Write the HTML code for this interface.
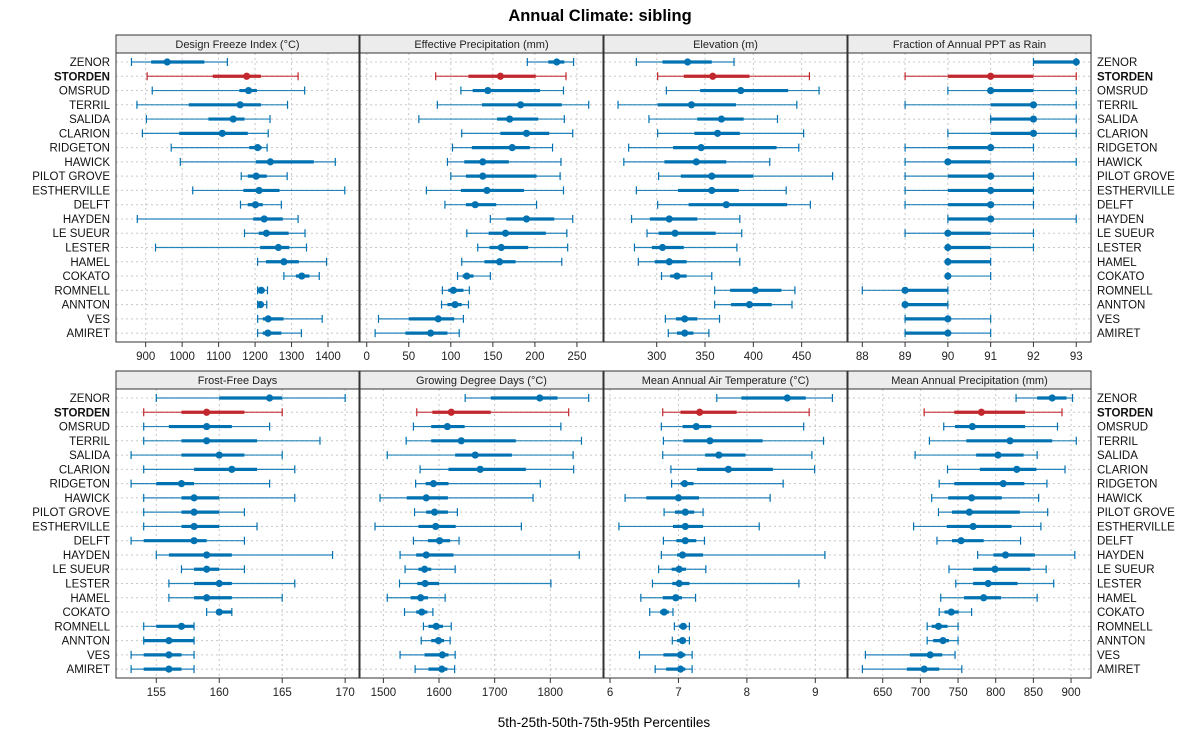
<!DOCTYPE html>
<html><head><meta charset="utf-8"><style>
body{margin:0;background:#fff;font-family:"Liberation Sans",sans-serif;}
svg text{font-family:"Liberation Sans",sans-serif;}
</style></head><body>
<svg id="chart" width="1200" height="750" xmlns="http://www.w3.org/2000/svg">
<text x="600" y="21" text-anchor="middle" font-size="16.5" font-weight="bold">Annual Climate: sibling</text>
<text x="604" y="727" text-anchor="middle" font-size="13.5">5th-25th-50th-75th-95th Percentiles</text>
<g id="g"></g>
</svg>
<script>
const sites = ["ZENOR","STORDEN","OMSRUD","TERRIL","SALIDA","CLARION","RIDGETON","HAWICK","PILOT GROVE","ESTHERVILLE","DELFT","HAYDEN","LE SUEUR","LESTER","HAMEL","COKATO","ROMNELL","ANNTON","VES","AMIRET"];
const panelTitles = ["Design Freeze Index (°C)","Effective Precipitation (mm)","Elevation (m)","Fraction of Annual PPT as Rain","Frost-Free Days","Growing Degree Days (°C)","Mean Annual Air Temperature (°C)","Mean Annual Precipitation (mm)"];
const ticks0 = [900,1000,1100,1200,1300,1400];
const ticks1 = [0,50,100,150,200,250];
const ticks2 = [300,350,400,450];
const ticks3 = [88,89,90,91,92,93];
const ticks4 = [155,160,165,170];
const ticks5 = [1500,1600,1700,1800];
const ticks6 = [6,7,8,9];
const ticks7 = [650,700,750,800,850,900];
const freezeIndex = [[861,915,959,1061,1124],[904,1084,1177,1216,1318],[918,1157,1182,1205,1336],[876,1018,1159,1216,1289],[902,1072,1140,1171,1241],[891,992,1110,1180,1236],[970,1184,1207,1218,1233],[995,1202,1242,1361,1420],[1162,1180,1203,1232,1288],[1029,1168,1211,1267,1446],[1160,1180,1201,1221,1272],[877,1195,1225,1276,1318],[1171,1210,1231,1292,1337],[927,1214,1264,1294,1341],[1207,1230,1279,1320,1396],[1279,1312,1328,1349,1376],[1207,1211,1217,1225,1234],[1207,1211,1215,1223,1232],[1207,1221,1236,1278,1384],[1207,1221,1235,1272,1327]];
const effPrecip = [[191,216,226,235,246],[82,121,159,201,237],[112,126,144,206,234],[84,137,183,232,264],[62,155,170,204,235],[113,159,190,217,245],[102,125,173,194,221],[96,116,138,169,231],[100,118,138,202,230],[71,112,143,187,234],[93,118,129,154,202],[147,166,190,223,245],[119,145,165,213,238],[132,146,160,192,239],[113,140,158,177,232],[108,114,119,127,147],[90,97,103,115,122],[89,96,105,113,121],[14,50,85,104,115],[10,46,76,96,110]];
const elevation = [[279,306,332,357,380],[301,328,358,396,458],[310,345,387,436,468],[260,301,336,382,445],[292,342,367,390,425],[301,339,363,386,452],[271,317,346,424,447],[266,308,341,372,417],[302,325,357,400,482],[279,322,357,385,434],[301,333,372,435,459],[274,293,313,342,386],[290,302,319,361,388],[277,295,306,328,383],[281,298,313,331,386],[305,314,321,331,357],[360,376,402,429,443],[360,377,396,419,440],[309,320,329,342,365],[312,321,329,338,354]];
const rainFraction = [[92,92,93,93,93],[89,90,91,92,93],[90,91,91,92,93],[89,91,92,92,93],[91,91,92,92,93],[90,91,92,92,93],[89,90,91,91,92],[89,90,90,91,93],[89,90,91,91,92],[89,90,91,92,92],[89,90,91,91,92],[90,90,91,91,93],[89,90,90,91,92],[90,90,90,91,92],[90,90,90,91,91],[90,90,90,90,91],[88,89,89,90,90],[89,89,89,90,90],[89,89,90,90,91],[89,89,90,90,91]];
const frostFree = [[155,160,164,165,170],[154,157,159,162,165],[154,156,159,161,164],[154,157,159,163,168],[153,157,160,162,165],[154,158,161,163,166],[153,155,157,158,164],[154,157,158,160,166],[154,157,158,160,162],[154,157,158,160,163],[153,154,158,159,162],[155,156,159,161,169],[157,158,159,160,162],[156,158,160,161,166],[156,158,159,161,165],[159,160,160,161,161],[154,155,157,158,158],[154,154,156,158,158],[153,154,156,157,158],[153,154,156,157,158]];
const gdd = [[1647,1693,1781,1813,1869],[1560,1588,1622,1693,1833],[1554,1586,1615,1646,1819],[1541,1586,1640,1738,1856],[1507,1629,1665,1731,1841],[1566,1617,1674,1756,1842],[1558,1576,1590,1617,1782],[1494,1542,1577,1616,1769],[1556,1577,1592,1616,1633],[1485,1563,1594,1630,1748],[1554,1580,1601,1620,1636],[1530,1559,1577,1626,1852],[1539,1563,1574,1586,1629],[1529,1561,1575,1600,1801],[1507,1549,1567,1580,1611],[1538,1559,1569,1579,1589],[1572,1581,1595,1607,1622],[1568,1586,1599,1609,1620],[1530,1574,1606,1617,1629],[1557,1581,1605,1615,1628]];
const maat = [[7.56,7.92,8.59,8.86,9.25],[6.77,7.03,7.31,7.85,8.91],[6.75,7.06,7.26,7.48,8.83],[6.78,7.07,7.46,8.23,9.12],[6.77,7.39,7.59,7.98,8.95],[6.89,7.27,7.73,8.38,8.99],[6.90,7.03,7.09,7.22,8.53],[6.22,6.53,7.00,7.30,8.34],[6.79,6.95,7.10,7.23,7.36],[6.13,6.92,7.10,7.36,8.18],[6.78,6.97,7.10,7.26,7.38],[6.75,6.98,7.06,7.36,9.14],[6.71,6.90,7.01,7.11,7.40],[6.62,6.91,7.01,7.16,8.76],[6.45,6.77,6.96,7.05,7.25],[6.58,6.73,6.79,6.86,6.92],[6.94,7.01,7.07,7.12,7.16],[6.91,6.98,7.06,7.11,7.16],[6.43,6.78,7.03,7.10,7.20],[6.66,6.82,7.03,7.10,7.20]];
const map = [[827,855,875,894,902],[705,745,781,839,888],[731,746,769,839,882],[712,761,819,875,907],[693,774,803,837,855],[736,779,828,854,892],[725,745,810,838,868],[715,737,768,808,857],[724,742,765,832,869],[691,735,770,821,860],[722,742,754,784,833],[776,797,813,852,905],[738,770,799,846,867],[747,770,790,829,877],[727,758,784,807,855],[725,732,741,751,768],[709,715,724,736,750],[709,717,730,738,750],[627,686,713,729,746],[623,682,705,725,755]];

const NS="http://www.w3.org/2000/svg";
const g=document.getElementById('g');
function mk(tag,attrs,parent){const e=document.createElementNS(NS,tag);for(const k in attrs)e.setAttribute(k,attrs[k]);(parent||g).appendChild(e);return e;}
const panels=[
 {d:freezeIndex,t:ticks0,dom:[818.6,1485]},
 {d:effPrecip,t:ticks1,dom:[-8,281]},
 {d:elevation,t:ticks2,dom:[245.5,496.9]},
 {d:rainFraction,t:ticks3,dom:[87.666,93.345]},
 {d:frostFree,t:ticks4,dom:[151.8,171.1]},
 {d:gdd,t:ticks5,dom:[1458,1894.7]},
 {d:maat,t:ticks6,dom:[5.912,9.463]},
 {d:map,t:ticks7,dom:[603.9,926.5]}
];
const colX=[116,360,604,848], W=243;
const rowTop=[53,389], H=289, stripH=18;
const BLUE="#0072b2", RED="#c1272d";
panels.forEach((p,i)=>{
 const c=i%4, r=Math.floor(i/4);
 const x0=colX[c], y0=rowTop[r];
 const sx=v=>x0+(v-p.dom[0])/(p.dom[1]-p.dom[0])*W;
 const sy=k=>y0+9+k*14.27;
 const pg=mk('g',{});
 
 
 const strip=mk('rect',{x:x0,y:y0-stripH,width:W,height:stripH,fill:'#ececec',stroke:'#333','stroke-width':1},pg);
 
 
 const st=mk('text',{x:x0+W/2,y:y0-5,'text-anchor':'middle','font-size':11,fill:'#222'},pg);
 st.textContent=panelTitles[i];
 
 
 p.t.forEach(t=>{
  const gl=mk('line',{x1:sx(t),x2:sx(t),y1:y0,y2:y0+H,stroke:'#c8c8c8','stroke-dasharray':'2,3'},pg);
  
  
  const tk=mk('line',{x1:sx(t),x2:sx(t),y1:y0+H,y2:y0+H+5,stroke:'#333'},pg);
  
  
  const tl=mk('text',{x:sx(t),y:y0+H+18,'text-anchor':'middle','font-size':11.5,fill:'#222'},pg);
  tl.textContent=t;
  
  
 });
 sites.forEach((s,k)=>{
  const hl=mk('line',{x1:x0,x2:x0+W,y1:sy(k),y2:sy(k),stroke:'#c8c8c8','stroke-dasharray':'2,3'},pg);
  
  
 });
 p.d.forEach((v,k)=>{
  const col=k===1?RED:BLUE, y=sy(k);
  const eg=mk('g',{},pg);
  
  
  mk('line',{x1:sx(v[0]),x2:sx(v[4]),y1:y,y2:y,stroke:col,'stroke-width':1.2,'stroke-opacity':0.85},eg);
  mk('line',{x1:sx(v[0]),x2:sx(v[0]),y1:y-4,y2:y+4,stroke:col,'stroke-width':1.2},eg);
  mk('line',{x1:sx(v[4]),x2:sx(v[4]),y1:y-4,y2:y+4,stroke:col,'stroke-width':1.2},eg);
  mk('line',{x1:sx(v[1]),x2:sx(v[3]),y1:y,y2:y,stroke:col,'stroke-width':3.2},eg);
  mk('circle',{cx:sx(v[2]),cy:y,r:3.6,fill:col},eg);
 });
 const fr=mk('rect',{x:x0,y:y0,width:W,height:H,fill:'none',stroke:'#333','stroke-width':1},pg);
 
 
});
[0,1].forEach(r=>{
 sites.forEach((s,k)=>{
  const y=rowTop[r]+9+k*14.27+4;
  const l=mk('text',{x:110,y:y,'text-anchor':'end','font-size':11.5,fill:'#111','font-weight':k===1?'bold':'normal'});
  l.textContent=s;
  
  
  const rl=mk('text',{x:1097,y:y,'text-anchor':'start','font-size':11.5,fill:'#111','font-weight':k===1?'bold':'normal'});
  rl.textContent=s;
  
  
 });
});
</script>
</body></html>
